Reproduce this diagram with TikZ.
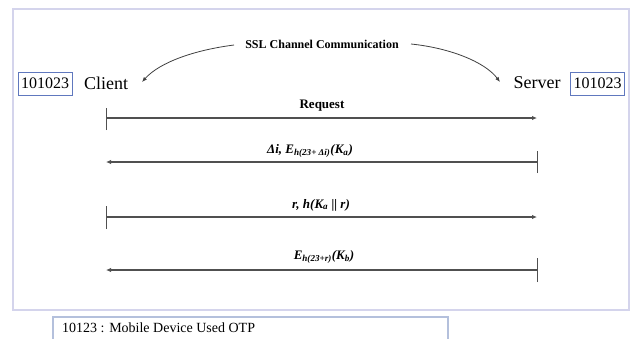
\documentclass[tikz,border=0pt]{standalone}
\usepackage{fontspec}
\setmainfont{Liberation Serif}
\usetikzlibrary{arrows.meta}

\definecolor{framecol}{RGB}{212,212,236}
\definecolor{idcol}{RGB}{96,120,190}
\definecolor{notecol}{RGB}{180,192,220}
\definecolor{msgcol}{RGB}{80,80,80}

\tikzset{
  x=1pt, y=-1pt,
  frame/.style={draw=framecol, line width=2pt},
  idbox/.style={draw=idcol, line width=0.9pt, minimum width=54pt, minimum height=23pt,
                inner sep=1pt, font=\fontsize{16}{18}\selectfont},
  party/.style={inner sep=0pt, font=\fontsize{18}{20}\selectfont},
  msg/.style={draw=msgcol, line width=1.3pt, -{Latex[length=5pt,width=4.5pt]}},
  tick/.style={draw=msgcol, line width=0.9pt},
  msglabel/.style={inner sep=0pt, font=\fontsize{13}{15}\selectfont\bfseries},
  itlabel/.style={msglabel, font=\fontsize{13}{15}\selectfont\bfseries\itshape},
  chan/.style={draw=black!75, line width=0.8pt, -{Latex[length=5pt,width=4pt]}},
  notebox/.style={draw=notecol, line width=1.2pt},
}

\begin{document}
\begin{tikzpicture}
\useasboundingbox (0,0) rectangle (630,338);
\fill[white] (0,0) rectangle (630,338);

% outer frame
\draw[frame] (12.5,8.5) rectangle (629,309.5);

% parties and their identifiers
\node[idbox] (cid) at (45,83.5) {101023};
\node[party] (client) at (106,83) {Client};
\node[party] (server) at (537,83) {Server};
\node[idbox] (sid) at (597.5,83.5) {101023};

% secure channel annotation
\node[msglabel, font=\fontsize{12}{14}\selectfont\bfseries] (ssl) at (322,44) {SSL Channel Communication};
\coordinate (sslL) at (234,45);
\coordinate (sslR) at (411,44);
\coordinate (cliEnd) at (142,82);
\coordinate (srvEnd) at (500,82);
\draw[chan] (sslL) .. controls (195,50) and (160,62) .. (cliEnd);
\draw[chan] (sslR) .. controls (450,48) and (485,62) .. (srvEnd);

% message end points on client (c) and server (s) sides
\coordinate (c1) at (106,118); \coordinate (s1) at (537,118);
\coordinate (c2) at (106,162); \coordinate (s2) at (537,162);
\coordinate (c3) at (106,217); \coordinate (s3) at (537,217);
\coordinate (c4) at (106,270); \coordinate (s4) at (537,270);

% 1: request
\draw[tick] ([yshift=-12pt]c1) -- ([yshift=10pt]c1);
\draw[msg] (c1) -- (s1);
\node[msglabel] (m1) at (322,106) {Request};

% 2: challenge from server
\draw[tick] ([yshift=-11pt]s2) -- ([yshift=11pt]s2);
\draw[msg] (s2) -- (c2);
\node[itlabel] (m2) at (310,151)
  {Δi, E\textsubscript{h(23+ Δi)}(K\textsubscript{a})};

% 3: response from client
\draw[tick] ([yshift=-12pt]c3) -- ([yshift=11pt]c3);
\draw[msg] (c3) -- (s3);
\node[itlabel] (m3) at (321,205)
  {r, h(K\textsubscript{a} || r)};

% 4: reply from server
\draw[tick] ([yshift=-12pt]s4) -- ([yshift=12pt]s4);
\draw[msg] (s4) -- (c4);
\node[itlabel] (m4) at (324,257)
  {E\textsubscript{h(23+r)}(K\textsubscript{b})};

% legend
\draw[notebox] (53,317) rectangle (448,350);
\node[anchor=west, inner sep=0pt, font=\fontsize{14}{16}\selectfont] (note) at (62,328)
  {10123 : Mobile Device Used OTP};
\end{tikzpicture}
\end{document}
